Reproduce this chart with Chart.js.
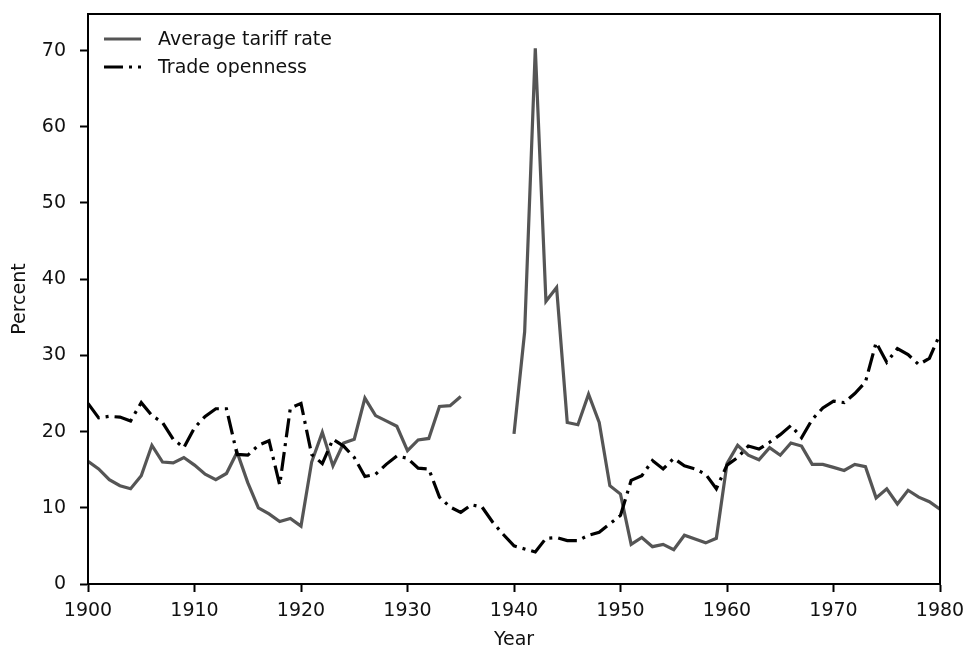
<!DOCTYPE html>
<html>
<head>
<meta charset="utf-8">
<script src="https://cdn.jsdelivr.net/npm/chart.js@4.4.1/dist/chart.umd.min.js"></script>
<style>
  html, body { margin: 0; padding: 0; background: #fff; }
  #wrap { width: 966px; height: 652px; }
</style>
</head>
<body>
<div id="wrap"><canvas id="chart" width="966" height="652"></canvas></div>
<script>
// years on the x axis
const years = [
  1900, 1901, 1902, 1903, 1904, 1905, 1906, 1907, 1908, 1909,
  1910, 1911, 1912, 1913, 1914, 1915, 1916, 1917, 1918, 1919,
  1920, 1921, 1922, 1923, 1924, 1925, 1926, 1927, 1928, 1929,
  1930, 1931, 1932, 1933, 1934, 1935, 1936, 1937, 1938, 1939,
  1940, 1941, 1942, 1943, 1944, 1945, 1946, 1947, 1948, 1949,
  1950, 1951, 1952, 1953, 1954, 1955, 1956, 1957, 1958, 1959,
  1960, 1961, 1962, 1963, 1964, 1965, 1966, 1967, 1968, 1969,
  1970, 1971, 1972, 1973, 1974, 1975, 1976, 1977, 1978, 1979,
  1980
];

// average tariff rate (no values 1936-1939)
const tariffRate = [
  16.1, 15.1, 13.7, 12.9, 12.5, 14.2, 18.2, 16.0, 15.9, 16.6,
  15.6, 14.4, 13.7, 14.5, 17.3, 13.3, 10.0, 9.2, 8.2, 8.6,
  7.6, 16.0, 19.9, 15.5, 18.5, 19.0, 24.4, 22.1, 21.4, 20.7,
  17.5, 18.9, 19.1, 23.3, 23.4, 24.6, null, null, null, null,
  19.7, 33.1, 70.3, 37.1, 38.9, 21.2, 20.9, 24.9, 21.2, 12.9,
  11.8, 5.2, 6.1, 4.9, 5.2, 4.5, 6.4, 5.9, 5.4, 6.0,
  15.8, 18.2, 16.9, 16.3, 17.9, 16.9, 18.5, 18.1, 15.7, 15.7,
  15.3, 14.9, 15.7, 15.4, 11.3, 12.5, 10.5, 12.3, 11.4, 10.8,
  9.8
];

// trade openness
const tradeOpenness = [
  23.7, 21.8, 22.0, 21.9, 21.4, 23.8, 22.1, 21.2, 19.0, 17.9,
  20.5, 22.0, 23.0, 23.0, 17.0, 16.9, 18.2, 18.8, 13.0, 23.1,
  23.7, 17.0, 15.8, 19.0, 18.1, 16.6, 14.1, 14.4, 15.7, 16.8,
  16.5, 15.2, 15.1, 11.4, 10.1, 9.4, 10.4, 10.1, 8.1, 6.5,
  5.0, 4.6, 4.2, 6.0, 6.1, 5.7, 5.7, 6.4, 6.8, 7.9,
  9.0, 13.6, 14.2, 16.2, 15.1, 16.5, 15.5, 15.1, 14.4, 12.5,
  15.6, 16.6, 18.1, 17.7, 18.6, 19.6, 20.8, 19.2, 21.6, 23.1,
  24.0, 23.8, 25.0, 26.5, 31.7, 29.1, 30.9, 30.1, 28.8, 29.6,
  32.8
];

const seriesNames = ['Average tariff rate', 'Trade openness'];

const FONT = 'DejaVu Sans';
const FONT_SIZE = 19;
const INK = '#111';

Chart.defaults.font.family = FONT;
Chart.defaults.font.size = FONT_SIZE;
Chart.defaults.color = INK;

const toPoints = vals => years.map((yr, i) => ({ x: yr, y: vals[i] }));

// draws the top/right spines so the plot is boxed like the original
const frameBox = {
  id: 'frameBox',
  afterDatasetsDraw(chart) {
    const { ctx, chartArea: a } = chart;
    ctx.save();
    ctx.strokeStyle = '#000';
    ctx.lineWidth = 2;
    ctx.strokeRect(a.left, a.top, a.right - a.left, a.bottom - a.top);
    ctx.restore();
  }
};

// legend inside the plot, top left, no frame
const insideLegend = {
  id: 'insideLegend',
  afterDraw(chart) {
    const { ctx, chartArea: a } = chart;
    const x0 = a.left + 16;
    const lineLen = 37;
    ctx.save();
    ctx.font = FONT_SIZE + 'px "' + FONT + '"';
    ctx.textBaseline = 'middle';
    ctx.textAlign = 'left';
    chart.data.datasets.forEach((ds, i) => {
      const y = a.top + 25 + i * 28;
      ctx.strokeStyle = ds.borderColor;
      ctx.lineWidth = ds.borderWidth;
      ctx.lineCap = 'butt';
      ctx.setLineDash(ds.borderDash || []);
      ctx.beginPath();
      ctx.moveTo(x0, y);
      ctx.lineTo(x0 + lineLen, y);
      ctx.stroke();
      ctx.setLineDash([]);
      ctx.fillStyle = INK;
      ctx.fillText(ds.label, x0 + lineLen + 17, y + 1);
    });
    ctx.restore();
  }
};

// no extra room for overhanging end labels, layout padding decides
function noOverhang(scale) {
  scale.paddingLeft = 0;
  scale.paddingRight = 0;
  scale.paddingTop = 0;
  scale.paddingBottom = 0;
}

const ctx = document.getElementById('chart').getContext('2d');

new Chart(ctx, {
  type: 'line',
  data: {
    datasets: [
      {
        label: seriesNames[0],
        data: toPoints(tariffRate),
        borderColor: '#555555',
        borderWidth: 3.2,
        pointRadius: 0,
        tension: 0,
        spanGaps: false,
        order: 1
      },
      {
        label: seriesNames[1],
        data: toPoints(tradeOpenness),
        borderColor: '#000000',
        borderWidth: 3.2,
        borderDash: [19, 6, 3, 6],
        pointRadius: 0,
        tension: 0,
        order: 0
      }
    ]
  },
  options: {
    responsive: false,
    animation: false,
    devicePixelRatio: 1,
    layout: {
      padding: { left: 0, right: 26, top: 14, bottom: 0 }
    },
    plugins: {
      legend: { display: false },
      tooltip: { enabled: false }
    },
    scales: {
      x: {
        type: 'linear',
        min: 1900,
        max: 1980,
        afterFit(scale) { scale.height = 68; noOverhang(scale); },
        border: { display: true, color: '#000', width: 2 },
        grid: {
          drawOnChartArea: false,
          drawTicks: true,
          tickLength: 8,
          tickColor: '#000',
          tickWidth: 2
        },
        ticks: {
          stepSize: 10,
          padding: 8,
          color: INK,
          maxRotation: 0,
          callback: v => String(v)
        },
        title: {
          display: true,
          text: 'Year',
          color: INK,
          padding: { top: 0, bottom: 1 }
        }
      },
      y: {
        type: 'linear',
        min: 0,
        max: 74.8,
        afterFit(scale) { scale.width = 88; noOverhang(scale); },
        border: { display: true, color: '#000', width: 2 },
        grid: {
          drawOnChartArea: false,
          drawTicks: true,
          tickLength: 8,
          tickColor: '#000',
          tickWidth: 2
        },
        ticks: {
          stepSize: 10,
          includeBounds: false,
          padding: 14,
          color: INK
        },
        title: {
          display: true,
          text: 'Percent',
          color: INK,
          padding: { top: 9, bottom: 0 }
        }
      }
    }
  },
  plugins: [frameBox, insideLegend]
});
</script>
</body>
</html>
